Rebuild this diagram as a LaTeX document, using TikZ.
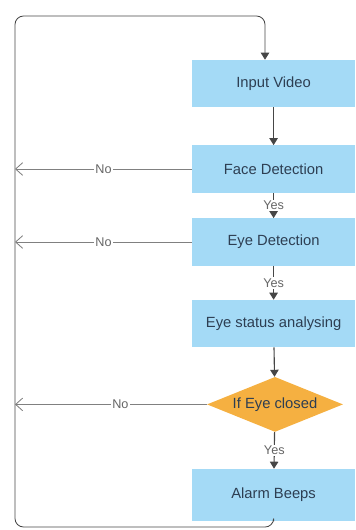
\documentclass[tikz,border=0pt]{standalone}
\usepackage{fontspec}
\setmainfont{Liberation Sans}
\usepackage{tikz}
\usetikzlibrary{shapes.geometric,arrows.meta,positioning,calc}
\definecolor{boxblue}{RGB}{164,218,246}
\definecolor{diaorange}{RGB}{245,176,65}
\definecolor{txtdark}{RGB}{45,62,82}
\definecolor{linegray}{RGB}{70,70,70}
\tikzset{
  procbox/.style={rectangle, minimum width=4.07cm, minimum height=1.18cm, inner sep=0pt,
                  fill=boxblue, text=txtdark, font=\fontsize{10.5}{12}\selectfont},
  decbox/.style={diamond, aspect=2.47, minimum width=3.4cm, minimum height=1.375cm, inner sep=0pt,
                 fill=diaorange, text=txtdark, font=\fontsize{10.5}{12}\selectfont},
  flow/.style={-{Triangle[length=5pt,width=6pt]}, thick, linegray},
  noflow/.style={-{Straight Barb[length=5pt,width=9pt]}, semithick, gray},
  lbl/.style={fill=white, inner sep=1pt, font=\fontsize{9}{10}\selectfont, text=gray!80!black},
}
\begin{document}
\begin{tikzpicture}
  \useasboundingbox (0,0) rectangle (8.9,-13.25);

  % Process steps
  \node[procbox] (input) at (6.84,-2.09) {Input Video};
  \node[procbox] (face) at (6.84,-4.225) {Face Detection};
  \node[procbox] (eye) at (6.84,-6.05) {Eye Detection};
  \node[procbox] (status) at (6.84,-8.09) {Eye status analysing};
  \node[decbox] (closed) at (6.875,-10.11) {If Eye closed};
  \node[procbox, minimum height=1.3cm] (alarm) at (6.84,-12.375) {Alarm Beeps};

  % Loop corners
  \coordinate (bl) at (0.375,-13.175);
  \coordinate (tl) at (0.375,-0.4);
  \coordinate (tr) at (6.625,-0.4);

  % Main flow
  \draw[flow] (input) -- (face);
  \draw[flow] (face) -- node[lbl]{Yes} (eye);
  \draw[flow] (eye) -- node[lbl]{Yes} (status);
  \draw[flow] (status) -- (closed);
  \draw[flow] (closed) -- node[lbl]{Yes} (alarm);

  % Back to start
  \draw[flow, semithick, rounded corners=6pt] (alarm.south) |- (bl) -- (tl) -- (tr) -- (tr |- input.north);

  % No branches
  \draw[noflow] (face.west) -- node[lbl]{No} (face.west -| bl);
  \draw[noflow] (eye.west) -- node[lbl]{No} (eye.west -| bl);
  \draw[noflow] (closed.west) -- node[lbl, pos=0.45]{No} (closed.west -| bl);
\end{tikzpicture}
\end{document}
